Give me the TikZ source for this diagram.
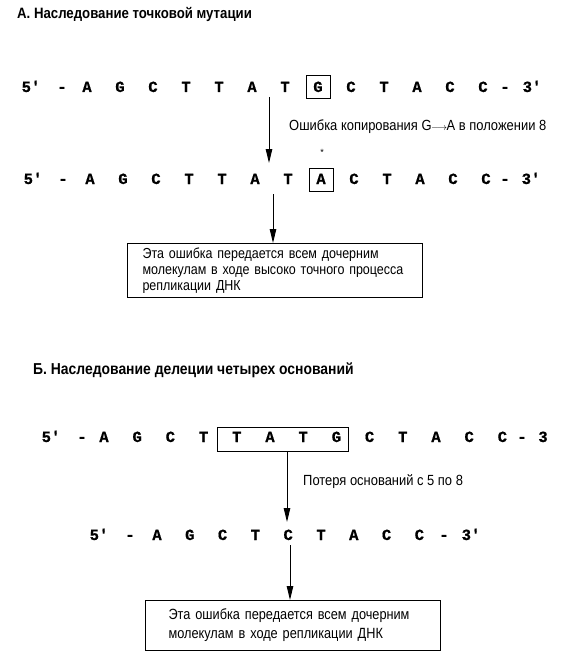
\documentclass[tikz,border=0pt]{standalone}
\usepackage{fontspec}
\setmainfont{Liberation Sans}
\newfontfamily\seqfont[BoldFeatures={FakeBold=0.8}]{Liberation Mono}
\newfontfamily\narrowfont[FakeStretch=0.88]{Liberation Sans}
\newfontfamily\boxfont[FakeStretch=0.86]{Liberation Sans}
\newfontfamily\narrowbold[FakeStretch=0.88]{Liberation Sans Bold}
\usetikzlibrary{arrows.meta,fit}
\begin{document}
\begin{tikzpicture}[x=1pt,y=-1pt,
  seq/.style={font=\seqfont\bfseries\fontsize{15.5}{15}\selectfont, inner sep=0pt, anchor=base},
  ttl/.style={font=\narrowbold\fontsize{15}{17}\selectfont, inner sep=0pt, anchor=base west},
  lbl/.style={font=\narrowfont\fontsize{14.7}{16}\selectfont, inner sep=0pt, anchor=base west},
  mbox/.style={draw, line width=1pt, inner sep=0pt},
  infobox/.style={draw, line width=1.1pt, anchor=north west, align=left, inner ysep=0pt},
  arr/.style={line width=1pt, -{Triangle[length=14pt,width=6.5pt]}}
]
\useasboundingbox (0,0) rectangle (561,658);
% Titles
\node[ttl] (tA) at (17,19) {А. Наследование точковой мутации};
\node[ttl, font=\narrowbold\fontsize{15.8}{17}\selectfont] (tB) at (33,374) {Б. Наследование делеции четырех оснований};

% Row 1
\node[seq] (r1p5) at (31,92) {5'};
\node[seq] (r1d1) at (62,92) {-};
\foreach \c [count=\i from 0] in {A,G,C,T,T,A,T,G,C,T,A,C,C}
  \node[seq] (r1l\i) at (87+33*\i,92) {\c};
\node[seq] (r1d2) at (505,92) {-};
\node[seq] (r1p3) at (532,92) {3'};
\node[mbox, minimum width=24pt, minimum height=23pt] (r1box) at (318,87) {};

% Row 2
\node[seq] (r2p5) at (33,184) {5'};
\node[seq] (r2d1) at (63,184) {-};
\foreach \c [count=\i from 0] in {A,G,C,T,T,A,T,A,C,T,A,C,C}
  \node[seq] (r2l\i) at (90+33*\i,184) {\c};
\node[seq] (r2d2) at (505,184) {-};
\node[seq] (r2p3) at (531,184) {3'};
\node[mbox, minimum width=24pt, minimum height=23pt] (r2box) at (321,180) {};
\node[font=\fontsize{9}{9}\selectfont, inner sep=0pt] (star) at (322,152) {*};

% Arrow 1 + label
\coordinate (a1s) at (269,97);
\coordinate (a1e) at (269,163);
\draw[arr] (a1s) -- (a1e);
\node[lbl] (lab1) at (289,131) {Ошибка копирования G\kern-0.5pt\raisebox{0.8pt}{\fontsize{10}{10}\selectfont$\longrightarrow$}\kern-0.5pt A в положении 8};

% Box 1
\node[infobox, minimum width=295pt, minimum height=54pt, inner xsep=15pt, text width=265pt,
      font=\boxfont\fontsize{14.5}{16}\selectfont] (box1) at (127,243)
  {Эта ошибка передается всем дочерним\\молекулам в ходе высоко точного процесса\\репликации ДНК};
\coordinate (a2s) at (273,194);
\draw[arr] (a2s) -- (a2s |- box1.north);

% Row 3
\node[seq] (r3p5) at (51,442) {5'};
\node[seq] (r3d1) at (82,442) {-};
\foreach \c [count=\i from 0] in {A,G,C,T,T,A,T,G,C,T,A,C,C}
  \node[seq] (r3l\i) at (104+33.2*\i,442) {\c};
\node[seq] (r3d2) at (522,442) {-};
\node[seq] (r3p3) at (543,442) {3};
\node[mbox, minimum width=131pt, minimum height=24pt] (del) at (282.5,439) {};

% Arrow 3 + label
\coordinate (a3e) at (287,522);
\draw[arr] (del.south -| a3e) -- (a3e);
\node[lbl] (lab2) at (303,485) {Потеря оснований с 5 по 8};

% Row 4
\node[seq] (r4p5) at (99,540) {5'};
\node[seq] (r4d1) at (130,540) {-};
\foreach \c [count=\i from 0] in {A,G,C,T,C,T,A,C,C}
  \node[seq] (r4l\i) at (157+32.8*\i,540) {\c};
\node[seq] (r4d2) at (444,540) {-};
\node[seq] (r4p3) at (471,540) {3'};

% Box 2
\node[infobox, minimum width=295pt, minimum height=50pt, inner xsep=23pt, text width=249pt,
      font=\boxfont\fontsize{14.8}{19}\selectfont] (box2) at (145,600)
  {Эта ошибка передается всем дочерним\\молекулам в ходе репликации ДНК};
\coordinate (a4s) at (290,545);
\draw[arr] (a4s) -- (a4s |- box2.north);
\end{tikzpicture}
\end{document}
